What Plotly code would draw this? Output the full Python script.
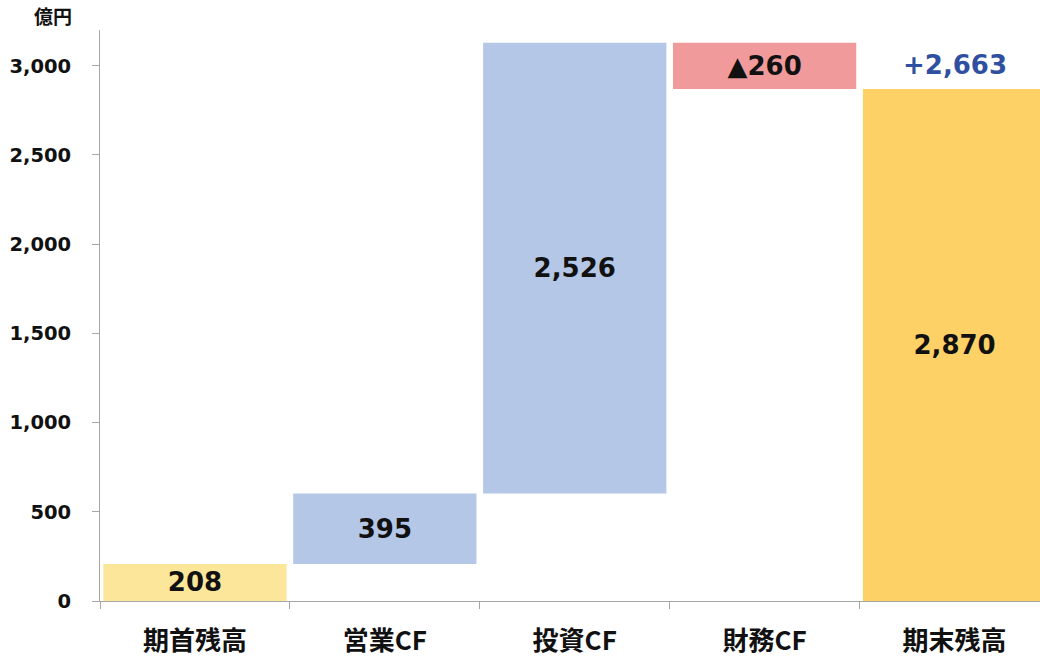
import plotly.graph_objects as go

categories = ["期首残高", "営業CF", "投資CF", "財務CF", "期末残高"]
values = [208, 395, 2526, -260, 2870]
kinds = ["total", "delta", "delta", "delta", "total"]
labels = ["208", "395", "2,526", "▲260", "2,870"]
colors = ["#FCE699", "#B4C7E7", "#B4C7E7", "#F09A9C", "#FDD166"]
change_label = "+2,663"
unit_label = "億円"

# compute bases through cumulative logic
bases = []
running = 0
for v, k in zip(values, kinds):
    if k == "total":
        bases.append(0)
        running = v
    else:
        bases.append(running)
        running += v

FONT = "DejaVu Sans, Noto Sans CJK JP, sans-serif"

fig = go.Figure()
fig.add_trace(go.Bar(
    x=categories, y=values, base=bases,
    marker=dict(color=colors, line=dict(width=0)),
    text=labels, textposition="inside", insidetextanchor="middle",
    textfont=dict(family=FONT, size=26, color="#111111", weight="bold"),
    hoverinfo="skip",
))

fig.add_annotation(
    x=categories[-1], y=values[-1], yanchor="bottom", yshift=7,
    text=change_label, showarrow=False,
    font=dict(family=FONT, size=26, color="#2F4FA0", weight="bold"),
)
fig.add_annotation(
    xref="paper", yref="paper", x=-0.05, y=1.0, xanchor="center", yanchor="bottom",
    yshift=-1, text=unit_label, showarrow=False,
    font=dict(family="Noto Sans CJK JP", size=19, color="#111111", weight="bold"),
)

fig.update_layout(
    width=1040, height=657,
    margin=dict(l=100, r=0, t=30, b=54),
    plot_bgcolor="white", paper_bgcolor="white",
    bargap=0.035, showlegend=False,
    uniformtext=dict(minsize=26, mode="show"),
)
fig.update_xaxes(
    type="category", range=[-0.5, 4.45],
    showline=True, linecolor="#A6A6A6", linewidth=1,
    ticks="outside", tickson="boundaries", ticklen=7, tickcolor="#A6A6A6",
    ticklabelstandoff=17,
    tickfont=dict(family="Noto Sans CJK JP, DejaVu Sans", size=26, color="#111111", weight="bold"),
    showgrid=False, zeroline=False,
)
fig.update_yaxes(
    range=[0, 3200], tickvals=[0, 500, 1000, 1500, 2000, 2500, 3000],
    tickformat=",",
    showline=True, linecolor="#A6A6A6", linewidth=1,
    ticks="outside", ticklen=7, tickcolor="#A6A6A6",
    ticklabelstandoff=17,
    tickfont=dict(family=FONT, size=19.5, color="#111111", weight="bold"),
    showgrid=False, zeroline=False,
)

fig.write_html("out.html")
